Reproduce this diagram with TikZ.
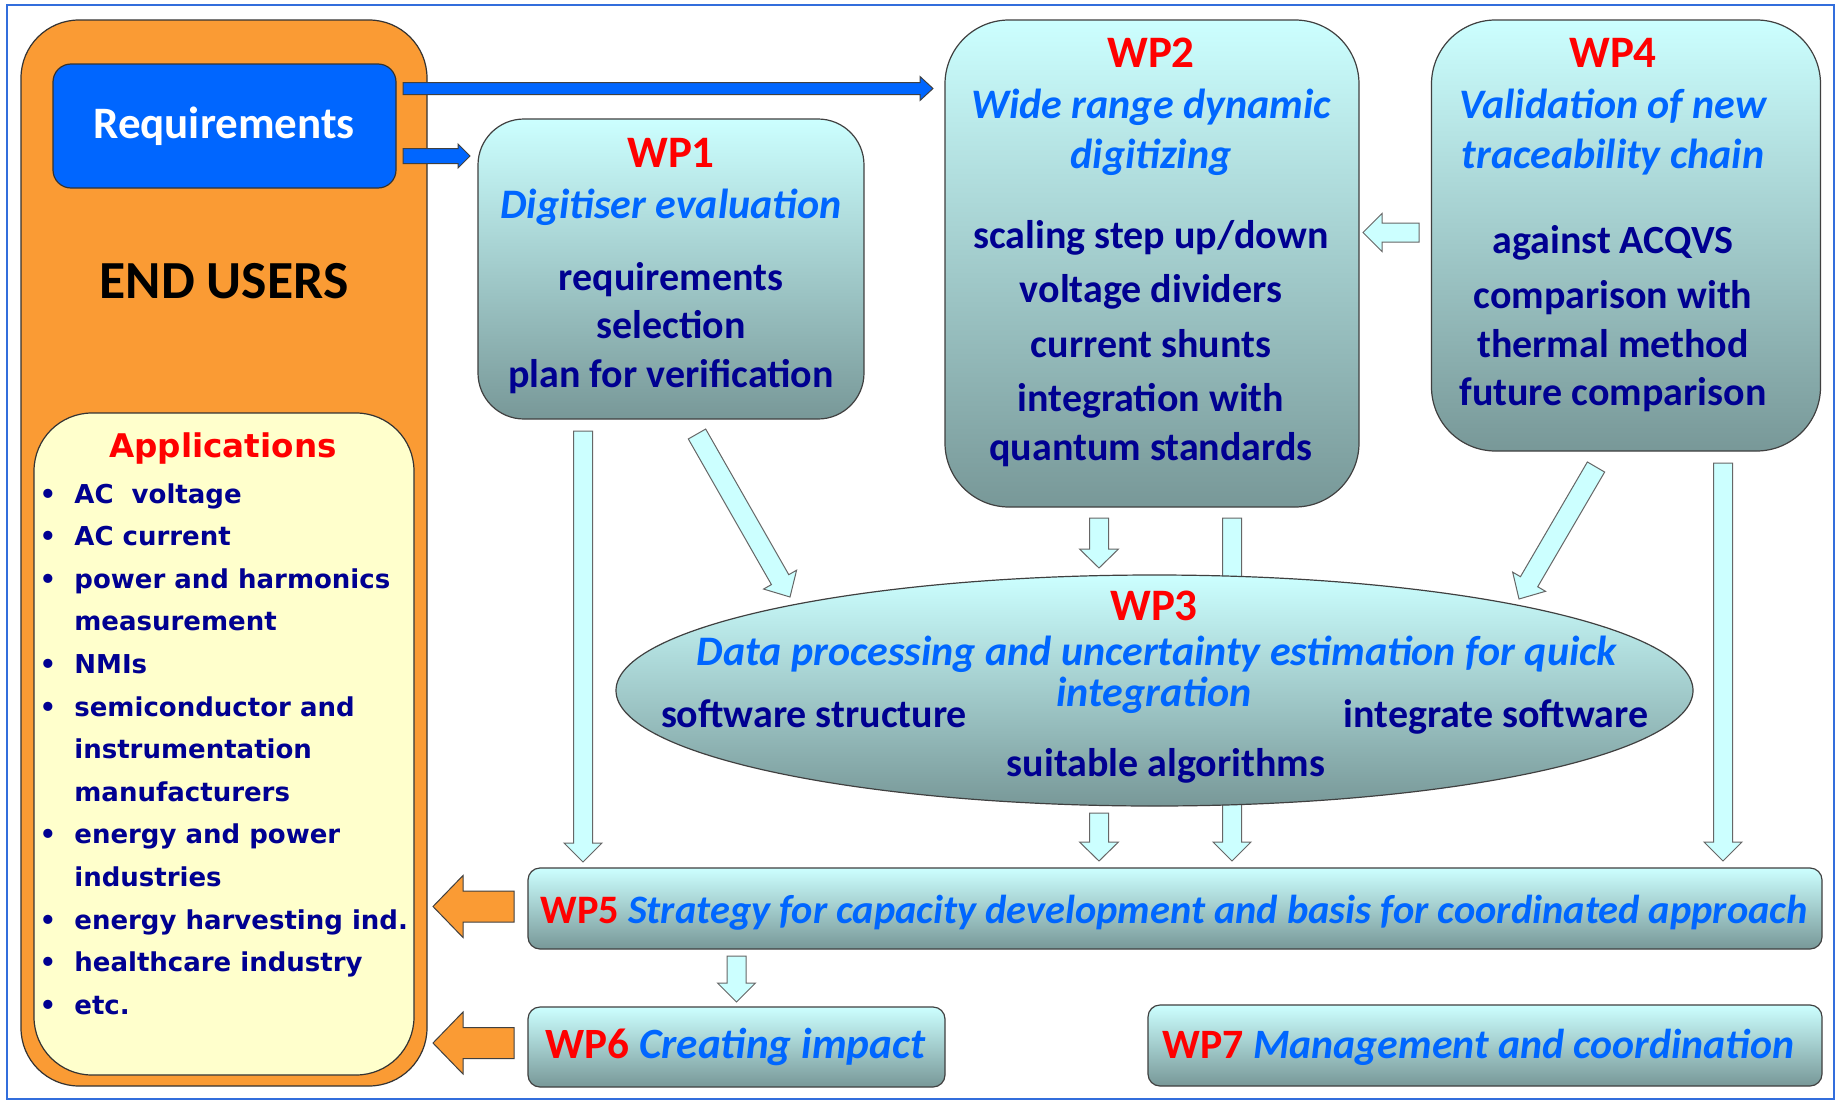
\documentclass[tikz,border=0pt]{standalone}
\usepackage{fontspec}
\setmainfont{Carlito}
\newfontfamily\verd{DejaVu Sans}
\usetikzlibrary{calc,shapes.geometric}
\definecolor{navy}{RGB}{0,0,145}
\definecolor{wpred}{RGB}{255,0,0}
\definecolor{wpblue}{RGB}{0,102,255}
\definecolor{reqblue}{RGB}{0,102,255}
\definecolor{orng}{RGB}{250,155,52}
\definecolor{appyel}{RGB}{255,255,204}
\definecolor{cyantop}{RGB}{204,255,255}
\definecolor{tealbot}{RGB}{120,152,152}
\definecolor{framecol}{RGB}{50,110,220}
\definecolor{arrcyan}{RGB}{204,255,255}
\newcommand\barrow[6][]{%
  \coordinate (bh) at ($(#3)!#6!(#2)$);
  \draw[#1] ($(#2)!#4!90:(#3)$) -- ($(bh)!#4!-90:(#2)$) -- ($(bh)!#5!-90:(#2)$) -- (#3)
    -- ($(bh)!#5!90:(#2)$) -- ($(bh)!#4!90:(#2)$) -- ($(#2)!#4!-90:(#3)$) -- cycle;
}
\tikzset{
  wpbox/.style={draw=black!75, line width=0.6pt, top color=cyantop, bottom color=tealbot, inner sep=0pt},
  ttl/.style={anchor=base, inner sep=0pt, text=wpred, font=\fontsize{22.5}{27}\selectfont\bfseries},
  sub/.style={anchor=base, inner sep=0pt, text=wpblue, font=\fontsize{21}{25}\selectfont\bfseries\itshape},
  itm/.style={anchor=base, inner sep=0pt, text=navy, font=\fontsize{20}{24}\selectfont\bfseries},
  app/.style={anchor=base west, inner sep=0pt, text=navy, font=\verd\bfseries\fontsize{13}{15}\selectfont},
  bul/.style={anchor=base, inner sep=0pt, text=navy, font=\verd\bfseries\fontsize{13}{15}\selectfont},
  cyanarr/.style={fill=arrcyan, draw=black!60, line width=0.5pt, line join=miter},
  bluearr/.style={fill=reqblue, draw=black!75, line width=0.5pt, line join=miter},
  orarr/.style={fill=orng, draw=black!75, line width=0.5pt, line join=miter},
}
\begin{document}
\begin{tikzpicture}[x=0.5pt,y=-0.5pt]
\useasboundingbox (0,0) rectangle (1837,1103);
\fill[white] (0,0) rectangle (1837,1103);
\draw[framecol, line width=1pt] (7,5) rectangle (1834,1099);

% end users
\node[draw=black!80, line width=0.6pt, fill=orng, rounded corners=29pt, minimum width=203pt, minimum height=533pt, inner sep=0pt] (users) at (224,553) {};
\node[draw=black!80, line width=0.6pt, fill=reqblue, rounded corners=9pt, minimum width=171.5pt, minimum height=62pt, inner sep=0pt] (req) at (224.5,126) {};
\node[anchor=base, inner sep=0pt, text=white, font=\fontsize{22.5}{27}\selectfont\bfseries] (reqt) at (224,138) {Requirements};
\node[anchor=base, inner sep=0pt, text=black, font=\fontsize{26.8}{32}\selectfont\bfseries] (userst) at (224,298) {END USERS};
\node[draw=black!80, line width=0.6pt, fill=appyel, rounded corners=29pt, minimum width=190pt, minimum height=331pt, inner sep=0pt] (apps) at (224,744) {};
\node[anchor=base, inner sep=0pt, text=wpred, font=\verd\bfseries\fontsize{16.3}{19}\selectfont] (appst) at (223,457) {Applications};

\foreach \t [count=\i from 0] in {AC\ \ voltage, AC current, power and harmonics, measurement, NMIs, semiconductor and, instrumentation, manufacturers, energy and power, industries, energy harvesting ind., healthcare industry, etc.}{
  \node[app] (ap\i) at (74,{503+42.6*\i}) {\t};
}
\foreach \i in {0,1,2,4,5,8,10,11,12}{
  \node[bul] (bu\i) at (48,{503+42.6*\i}) {•};
}

% WP boxes
\node[wpbox, rounded corners=23pt, minimum width=193pt, minimum height=150pt] (wp1) at (671,269) {};
\node[wpbox, rounded corners=32pt, minimum width=207pt, minimum height=243.5pt] (wp2) at (1152,263.5) {};
\node[wpbox, rounded corners=32pt, minimum width=194.5pt, minimum height=215.5pt] (wp4) at (1626,235.5) {};

% long arrow behind WP3
\coordinate (g1) at (1232,518);
\coordinate (g2) at (1232,861);
\barrow[cyanarr]{g1}{g2}{4.75pt}{9.5pt}{9.5pt}

\node[wpbox, ellipse, minimum width=538.5pt, minimum height=115.5pt] (wp3) at (1154.5,690.5) {};

\node[wpbox, rounded corners=6pt, minimum width=647pt, minimum height=40.5pt] (wp5) at (1175,908.5) {};
\node[wpbox, rounded corners=6pt, minimum width=208.5pt, minimum height=40pt] (wp6) at (736.5,1047) {};
\node[wpbox, rounded corners=6pt, minimum width=337pt, minimum height=40.5pt] (wp7) at (1485,1045.5) {};

% WP1 text
\node[ttl] (wp1a) at (671,167) {WP1};
\node[sub] (wp1b) at (671,218) {Digitiser evaluation};
\node[itm] (wp1c) at (671,290) {requirements};
\node[itm] (wp1d) at (671,338) {selection};
\node[itm] (wp1e) at (671,387) {plan for verification};

% WP2 text
\node[ttl] (wp2a) at (1151,67) {WP2};
\node[sub] (wp2b) at (1151,118) {Wide range dynamic};
\node[sub] (wp2c) at (1151,168) {digitizing};
\node[itm] (wp2d) at (1151,248) {scaling step up/down};
\node[itm] (wp2e) at (1151,302) {voltage dividers};
\node[itm] (wp2f) at (1151,357) {current shunts};
\node[itm] (wp2g) at (1151,411) {integration with};
\node[itm] (wp2h) at (1151,460) {quantum standards};

% WP4 text
\node[ttl] (wp4a) at (1613,67) {WP4};
\node[sub] (wp4b) at (1613,118) {Validation of new};
\node[sub] (wp4c) at (1613,168) {traceability chain};
\node[itm] (wp4d) at (1613,253) {against ACQVS};
\node[itm] (wp4e) at (1613,308) {comparison with};
\node[itm] (wp4f) at (1613,357) {thermal method};
\node[itm] (wp4g) at (1613,405) {future comparison};

% WP3 text
\node[ttl] (wp3a) at (1154,620) {WP3};
\node[sub] (wp3b) at (1157,665) {Data processing and uncertainty estimation for quick};
\node[sub] (wp3c) at (1154,706) {integration};
\node[itm] (wp3d) at (814,727) {software structure};
\node[itm] (wp3e) at (1496,727) {integrate software};
\node[itm] (wp3f) at (1166,776) {suitable algorithms};

% WP5-7 text
\node[anchor=base west, inner sep=0pt, font=\fontsize{20.2}{24}\selectfont\bfseries] (wp5t) at (540,923) {\textcolor{wpred}{WP5} \textcolor{wpblue}{\itshape Strategy for capacity development and basis for coordinated approach}};
\node[anchor=base west, inner sep=0pt, font=\fontsize{21.6}{26}\selectfont\bfseries] (wp6t) at (545,1058) {\textcolor{wpred}{WP6} \textcolor{wpblue}{\itshape Creating impact}};
\node[anchor=base west, inner sep=0pt, font=\fontsize{20.9}{25}\selectfont\bfseries] (wp7t) at (1162,1058) {\textcolor{wpred}{WP7} \textcolor{wpblue}{\itshape Management and coordination}};

% blue arrows
\coordinate (b1s) at (403,88.5);
\coordinate (b1e) at (933,88.5);
\barrow[bluearr]{b1s}{b1e}{3pt}{6pt}{6.5pt}
\coordinate (b2s) at (403,156);
\coordinate (b2e) at (470,156);
\barrow[bluearr]{b2s}{b2e}{3.75pt}{6pt}{6pt}

% cyan arrows
\coordinate (c1s) at (1419,232.5);
\coordinate (c1e) at (1363,232.5);
\barrow[cyanarr]{c1s}{c1e}{4.75pt}{9.5pt}{9.5pt}
\coordinate (d1s) at (583,431);
\coordinate (d1e) at (583,862);
\barrow[cyanarr]{d1s}{d1e}{4.75pt}{9.5pt}{9.5pt}
\coordinate (e1s) at (697,434);
\coordinate (e1e) at (790,597);
\barrow[cyanarr]{e1s}{e1e}{5pt}{9.5pt}{10pt}
\coordinate (f1s) at (1099,518);
\coordinate (f1e) at (1099,568);
\barrow[cyanarr]{f1s}{f1e}{4.75pt}{9.75pt}{9.5pt}
\coordinate (h1s) at (1596,467);
\coordinate (h1e) at (1519,599);
\barrow[cyanarr]{h1s}{h1e}{5pt}{9.5pt}{10pt}
\coordinate (i1s) at (1723,463);
\coordinate (i1e) at (1723,861);
\barrow[cyanarr]{i1s}{i1e}{4.75pt}{9.5pt}{9.5pt}
\coordinate (j1s) at (1099,813);
\coordinate (j1e) at (1099,861);
\barrow[cyanarr]{j1s}{j1e}{4.75pt}{9.75pt}{9.5pt}
\coordinate (k1s) at (736.5,956);
\coordinate (k1e) at (736.5,1002);
\barrow[cyanarr]{k1s}{k1e}{4.75pt}{9.5pt}{9.5pt}

% orange arrows
\coordinate (o1s) at (514,906.5);
\coordinate (o1e) at (433,906.5);
\barrow[orarr]{o1s}{o1e}{7.75pt}{15.5pt}{15pt}
\coordinate (o2s) at (514,1043);
\coordinate (o2e) at (433,1043);
\barrow[orarr]{o2s}{o2e}{7.75pt}{15.5pt}{15pt}
\end{tikzpicture}
\end{document}
